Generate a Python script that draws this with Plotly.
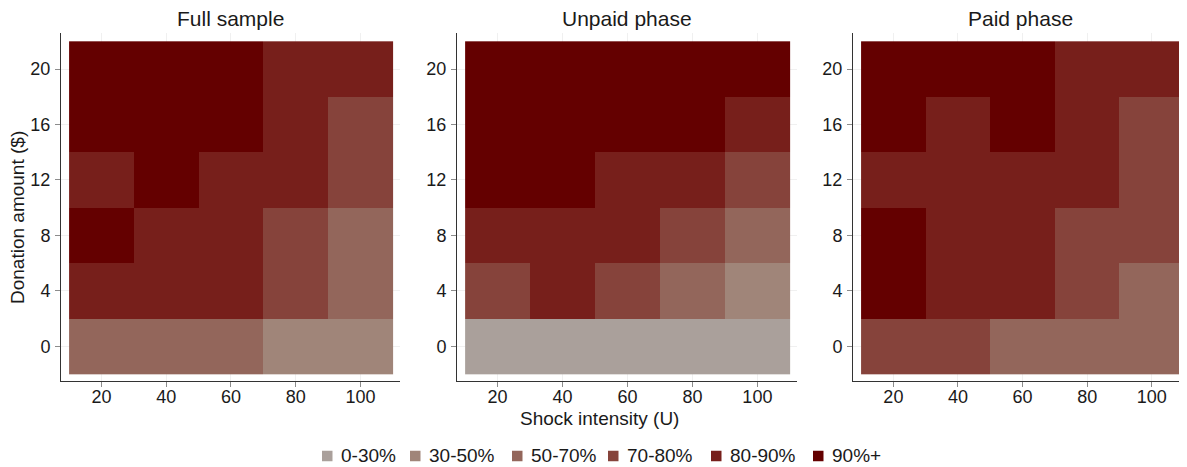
import plotly.graph_objects as go

shock = [20, 40, 60, 80, 100]
donation = [0, 4, 8, 12, 16, 20]
categories = ["0-30%", "30-50%", "50-70%", "70-80%", "80-90%", "90%+"]
colors = ["#AAA09B", "#A08579", "#93665B", "#86433B", "#771F1B", "#640000"]
panel_titles = ["Full sample", "Unpaid phase", "Paid phase"]

# category index per cell; rows = donation (0..20), cols = shock (20..100)
full_sample = [
    [2, 2, 2, 1, 1],
    [4, 4, 4, 3, 2],
    [5, 4, 4, 3, 2],
    [4, 5, 4, 4, 3],
    [5, 5, 5, 4, 3],
    [5, 5, 5, 4, 4],
]
unpaid = [
    [0, 0, 0, 0, 0],
    [3, 4, 3, 2, 1],
    [4, 4, 4, 3, 2],
    [5, 5, 4, 4, 3],
    [5, 5, 5, 5, 4],
    [5, 5, 5, 5, 5],
]
paid = [
    [3, 3, 2, 2, 2],
    [5, 4, 4, 3, 2],
    [5, 4, 4, 3, 3],
    [4, 4, 4, 4, 3],
    [5, 4, 5, 4, 3],
    [5, 5, 5, 4, 4],
]
panels = [full_sample, unpaid, paid]

n = len(colors)
cscale = []
for i, c in enumerate(colors):
    cscale.append([i / n, c])
    cscale.append([(i + 1) / n, c])

# the page body adds an 8px offset; lay out in page pixels and compensate
OFF = 8
W, H = 1187 - OFF, 467 - OFF
ml, mr, mt, mb = 61 - OFF, 0, 33 - OFF, H - (381 - OFF)
pw = W - ml - mr
ph = H - mt - mb


def px_x(page_x):
    return (page_x - OFF - ml) / pw


def px_y(page_y):
    return (H - mb - (page_y - OFF)) / ph


px_domains = [(61, 400), (457, 797), (853, 1187)]
domains = [(px_x(a), px_x(b)) for a, b in px_domains]
xranges = [[7.5, 112.2], [7.5, 112.2], [7.5, 110.9]]

# legend swatch left edges (page px) as in the reference
legend_left = [322, 410, 512, 608, 711, 813]
sw = 10.5
legend_cy = 456

font_family = "Liberation Sans, Arial, sans-serif"
fig = go.Figure()

for k, z in enumerate(panels):
    ax = "" if k == 0 else str(k + 1)
    fig.add_trace(go.Heatmap(
        x=shock, y=donation, z=z, colorscale=cscale, zmin=-0.5, zmax=n - 0.5,
        showscale=False, xaxis="x" + ax, yaxis="y" + ax, hoverinfo="x+y+z",
    ))

common_axis = dict(
    showline=True, linecolor="#333333", linewidth=1, automargin=False,
    ticks="outside", ticklen=5, tickcolor="#8c8c8c", tickwidth=1,
    showgrid=True, gridcolor="#F0F0F0", gridwidth=1,
    zeroline=False, tickfont=dict(size=18, color="#1a1a1a", family=font_family),
)

layout = dict(
    width=W, height=H,
    margin=dict(l=ml, r=mr, t=mt, b=mb, autoexpand=False),
    paper_bgcolor="white", plot_bgcolor="white",
    font=dict(family=font_family, color="#1a1a1a"),
    showlegend=False,
)
annotations = []
shapes = []
for k in range(3):
    ax = "" if k == 0 else str(k + 1)
    layout["xaxis" + ax] = dict(common_axis, domain=list(domains[k]), range=xranges[k],
                               tickvals=shock, anchor="y" + ax, ticklabelstandoff=-6)
    layout["yaxis" + ax] = dict(common_axis, domain=[0, 1], range=[-2.5, 22.6],
                               tickvals=donation, anchor="x" + ax, ticklabelstandoff=1)
    a, b = px_domains[k]
    annotations.append(dict(text=panel_titles[k], x=px_x((a + b) / 2), y=1,
                            xref="paper", yref="paper", xanchor="center",
                            yanchor="bottom", yshift=1,
                            showarrow=False, font=dict(size=21)))

annotations.append(dict(text="Shock intensity (U)", x=px_x(599), y=0, xref="paper",
                        yref="paper", xanchor="center", yanchor="top", yshift=-25,
                        showarrow=False, font=dict(size=19)))
annotations.append(dict(text="Donation amount ($)", x=px_x(18), xref="paper",
                        xanchor="center", yanchor="middle",
                        y=px_y(218), yref="paper",
                        showarrow=False, textangle=-90, font=dict(size=19)))

for left, cat, c in zip(legend_left, categories, colors):
    shapes.append(dict(type="rect", xref="paper", yref="paper",
                       x0=px_x(left), x1=px_x(left + sw),
                       y0=px_y(legend_cy + sw / 2), y1=px_y(legend_cy - sw / 2),
                       fillcolor=c, line=dict(width=0)))
    annotations.append(dict(text=cat, x=px_x(left + 16.5), xanchor="left",
                            y=px_y(legend_cy - 1), yanchor="middle", xref="paper",
                            yref="paper", showarrow=False, font=dict(size=19)))

layout["annotations"] = annotations
layout["shapes"] = shapes
fig.update_layout(**layout)

fig.write_html("out.html")
